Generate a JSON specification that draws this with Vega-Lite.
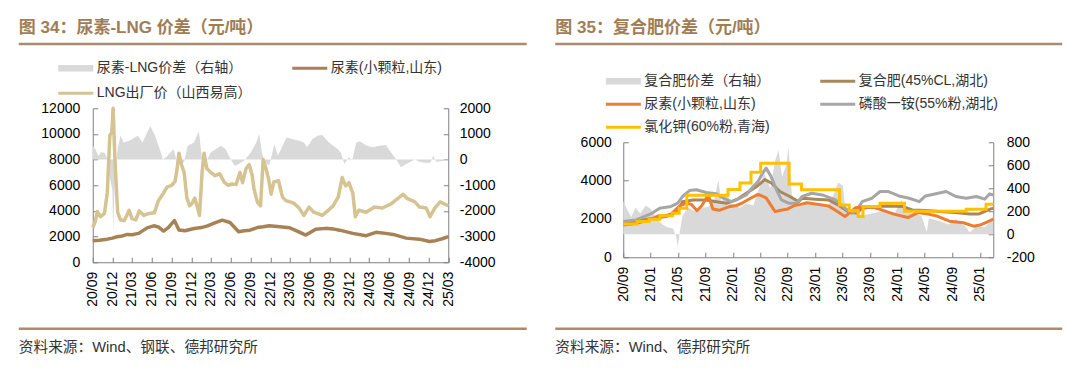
{
"$schema": "https://vega.github.io/schema/vega-lite/v6.json",
"padding": {"left": 16.75, "top": 18, "right": 5, "bottom": 5},
"background": "white",
"config": {
  "font": "Liberation Sans, Noto Sans CJK SC",
  "view": {"stroke": null},
  "axis": {"domainColor": "#808080", "tickColor": "#808080", "labelColor": "#000000", "labelFontSize": 14, "labelFont": "Liberation Sans, Noto Sans CJK SC", "grid": false, "tickSize": -5, "labelOverlap": false, "labelFlush": false},
  "legend": {"padding": 0, "labelFont": "Liberation Sans, Noto Sans CJK SC", "labelFontSize": 14, "labelColor": "#333333", "labelLimit": 400, "symbolStrokeWidth": 0},
  "title": {"font": "Liberation Sans, Noto Sans CJK SC"}
},
"datasets": {
"p1": [
{"d":"2020/09/01","s":"尿素-LNG价差（右轴）","v":550},{"d":"2020/09/13","s":"尿素-LNG价差（右轴）","v":400},{"d":"2020/09/28","s":"尿素-LNG价差（右轴）","v":150},{"d":"2020/10/10","s":"尿素-LNG价差（右轴）","v":300},{"d":"2020/10/28","s":"尿素-LNG价差（右轴）","v":250},{"d":"2020/11/07","s":"尿素-LNG价差（右轴）","v":0},{"d":"2020/11/19","s":"尿素-LNG价差（右轴）","v":-700},{"d":"2020/12/01","s":"尿素-LNG价差（右轴）","v":-1200},{"d":"2020/12/04","s":"尿素-LNG价差（右轴）","v":-2800},{"d":"2020/12/13","s":"尿素-LNG价差（右轴）","v":-600},{"d":"2020/12/25","s":"尿素-LNG价差（右轴）","v":400},{"d":"2021/01/07","s":"尿素-LNG价差（右轴）","v":930},{"d":"2021/01/22","s":"尿素-LNG价差（右轴）","v":670},{"d":"2021/02/19","s":"尿素-LNG价差（右轴）","v":740},{"d":"2021/03/28","s":"尿素-LNG价差（右轴）","v":930},{"d":"2021/04/19","s":"尿素-LNG价差（右轴）","v":670},{"d":"2021/05/10","s":"尿素-LNG价差（右轴）","v":1060},{"d":"2021/05/25","s":"尿素-LNG价差（右轴）","v":1300},{"d":"2021/06/16","s":"尿素-LNG价差（右轴）","v":930},{"d":"2021/07/07","s":"尿素-LNG价差（右轴）","v":410},{"d":"2021/07/22","s":"尿素-LNG价差（右轴）","v":0},{"d":"2021/08/07","s":"尿素-LNG价差（右轴）","v":100},{"d":"2021/08/19","s":"尿素-LNG价差（右轴）","v":220},{"d":"2021/09/10","s":"尿素-LNG价差（右轴）","v":410},{"d":"2021/09/22","s":"尿素-LNG价差（右轴）","v":0},{"d":"2021/10/04","s":"尿素-LNG价差（右轴）","v":-150},{"d":"2021/10/28","s":"尿素-LNG价差（右轴）","v":-100},{"d":"2021/11/13","s":"尿素-LNG价差（右轴）","v":540},{"d":"2021/12/13","s":"尿素-LNG价差（右轴）","v":670},{"d":"2022/01/04","s":"尿素-LNG价差（右轴）","v":1100},{"d":"2022/01/19","s":"尿素-LNG价差（右轴）","v":0},{"d":"2022/02/07","s":"尿素-LNG价差（右轴）","v":-80},{"d":"2022/02/28","s":"尿素-LNG价差（右轴）","v":280},{"d":"2022/03/25","s":"尿素-LNG价差（右轴）","v":410},{"d":"2022/04/16","s":"尿素-LNG价差（右轴）","v":540},{"d":"2022/05/07","s":"尿素-LNG价差（右轴）","v":410},{"d":"2022/06/01","s":"尿素-LNG价差（右轴）","v":0},{"d":"2022/06/19","s":"尿素-LNG价差（右轴）","v":-250},{"d":"2022/07/10","s":"尿素-LNG价差（右轴）","v":-150},{"d":"2022/08/01","s":"尿素-LNG价差（右轴）","v":-50},{"d":"2022/09/01","s":"尿素-LNG价差（右轴）","v":280},{"d":"2022/09/25","s":"尿素-LNG价差（右轴）","v":650},{"d":"2022/10/10","s":"尿素-LNG价差（右轴）","v":990},{"d":"2022/10/22","s":"尿素-LNG价差（右轴）","v":300},{"d":"2022/11/04","s":"尿素-LNG价差（右轴）","v":-100},{"d":"2022/11/25","s":"尿素-LNG价差（右轴）","v":-230},{"d":"2022/12/19","s":"尿素-LNG价差（右轴）","v":600},{"d":"2023/01/04","s":"尿素-LNG价差（右轴）","v":160},{"d":"2023/01/19","s":"尿素-LNG价差（右轴）","v":410},{"d":"2023/02/13","s":"尿素-LNG价差（右轴）","v":860},{"d":"2023/03/10","s":"尿素-LNG价差（右轴）","v":800},{"d":"2023/04/13","s":"尿素-LNG价差（右轴）","v":735},{"d":"2023/05/04","s":"尿素-LNG价差（右轴）","v":670},{"d":"2023/05/19","s":"尿素-LNG价差（右轴）","v":480},{"d":"2023/06/13","s":"尿素-LNG价差（右轴）","v":800},{"d":"2023/07/07","s":"尿素-LNG价差（右轴）","v":930},{"d":"2023/07/28","s":"尿素-LNG价差（右轴）","v":955},{"d":"2023/08/28","s":"尿素-LNG价差（右轴）","v":670},{"d":"2023/10/07","s":"尿素-LNG价差（右轴）","v":410},{"d":"2023/10/22","s":"尿素-LNG价差（右轴）","v":280},{"d":"2023/11/07","s":"尿素-LNG价差（右轴）","v":-170},{"d":"2023/11/28","s":"尿素-LNG价差（右轴）","v":90},{"d":"2023/12/13","s":"尿素-LNG价差（右轴）","v":-40},{"d":"2024/01/01","s":"尿素-LNG价差（右轴）","v":670},{"d":"2024/01/19","s":"尿素-LNG价差（右轴）","v":700},{"d":"2024/02/19","s":"尿素-LNG价差（右轴）","v":540},{"d":"2024/03/16","s":"尿素-LNG价差（右轴）","v":480},{"d":"2024/04/16","s":"尿素-LNG价差（右轴）","v":540},{"d":"2024/05/16","s":"尿素-LNG价差（右轴）","v":570},{"d":"2024/06/10","s":"尿素-LNG价差（右轴）","v":280},{"d":"2024/07/04","s":"尿素-LNG价差（右轴）","v":0},{"d":"2024/07/25","s":"尿素-LNG价差（右轴）","v":-300},{"d":"2024/08/19","s":"尿素-LNG价差（右轴）","v":-170},{"d":"2024/09/28","s":"尿素-LNG价差（右轴）","v":0},{"d":"2024/10/19","s":"尿素-LNG价差（右轴）","v":-80},{"d":"2024/11/19","s":"尿素-LNG价差（右轴）","v":-130},{"d":"2024/12/10","s":"尿素-LNG价差（右轴）","v":-100},{"d":"2024/12/22","s":"尿素-LNG价差（右轴）","v":160},{"d":"2025/01/04","s":"尿素-LNG价差（右轴）","v":-80},{"d":"2025/02/01","s":"尿素-LNG价差（右轴）","v":-60},{"d":"2025/03/01","s":"尿素-LNG价差（右轴）","v":-40},
{"d":"2020/09/01","s":"尿素(小颗粒,山东)","v":1680},{"d":"2020/10/01","s":"尿素(小颗粒,山东)","v":1720},{"d":"2020/11/07","s":"尿素(小颗粒,山东)","v":1800},{"d":"2020/12/01","s":"尿素(小颗粒,山东)","v":1880},{"d":"2020/12/22","s":"尿素(小颗粒,山东)","v":1990},{"d":"2021/01/16","s":"尿素(小颗粒,山东)","v":2050},{"d":"2021/02/07","s":"尿素(小颗粒,山东)","v":2170},{"d":"2021/03/01","s":"尿素(小颗粒,山东)","v":2150},{"d":"2021/04/01","s":"尿素(小颗粒,山东)","v":2250},{"d":"2021/05/10","s":"尿素(小颗粒,山东)","v":2680},{"d":"2021/06/10","s":"尿素(小颗粒,山东)","v":2840},{"d":"2021/07/01","s":"尿素(小颗粒,山东)","v":2750},{"d":"2021/07/25","s":"尿素(小颗粒,山东)","v":2430},{"d":"2021/08/16","s":"尿素(小颗粒,山东)","v":2700},{"d":"2021/09/13","s":"尿素(小颗粒,山东)","v":3250},{"d":"2021/10/04","s":"尿素(小颗粒,山东)","v":2520},{"d":"2021/11/01","s":"尿素(小颗粒,山东)","v":2450},{"d":"2021/12/13","s":"尿素(小颗粒,山东)","v":2630},{"d":"2022/01/16","s":"尿素(小颗粒,山东)","v":2700},{"d":"2022/02/13","s":"尿素(小颗粒,山东)","v":2840},{"d":"2022/03/16","s":"尿素(小颗粒,山东)","v":3050},{"d":"2022/04/22","s":"尿素(小颗粒,山东)","v":3280},{"d":"2022/05/28","s":"尿素(小颗粒,山东)","v":3100},{"d":"2022/07/07","s":"尿素(小颗粒,山东)","v":2380},{"d":"2022/08/01","s":"尿素(小颗粒,山东)","v":2450},{"d":"2022/08/28","s":"尿素(小颗粒,山东)","v":2500},{"d":"2022/10/01","s":"尿素(小颗粒,山东)","v":2700},{"d":"2022/10/28","s":"尿素(小颗粒,山东)","v":2760},{"d":"2022/11/25","s":"尿素(小颗粒,山东)","v":2840},{"d":"2023/01/01","s":"尿素(小颗粒,山东)","v":2780},{"d":"2023/02/28","s":"尿素(小颗粒,山东)","v":2680},{"d":"2023/04/01","s":"尿素(小颗粒,山东)","v":2450},{"d":"2023/05/13","s":"尿素(小颗粒,山东)","v":2120},{"d":"2023/06/28","s":"尿素(小颗粒,山东)","v":2580},{"d":"2023/08/13","s":"尿素(小颗粒,山东)","v":2640},{"d":"2023/09/16","s":"尿素(小颗粒,山东)","v":2600},{"d":"2023/10/16","s":"尿素(小颗粒,山东)","v":2500},{"d":"2023/12/16","s":"尿素(小颗粒,山东)","v":2250},{"d":"2024/02/16","s":"尿素(小颗粒,山东)","v":2070},{"d":"2024/04/01","s":"尿素(小颗粒,山东)","v":2330},{"d":"2024/05/16","s":"尿素(小颗粒,山东)","v":2250},{"d":"2024/06/19","s":"尿素(小颗粒,山东)","v":2170},{"d":"2024/08/19","s":"尿素(小颗粒,山东)","v":1880},{"d":"2024/10/19","s":"尿素(小颗粒,山东)","v":1800},{"d":"2024/12/04","s":"尿素(小颗粒,山东)","v":1620},{"d":"2025/01/01","s":"尿素(小颗粒,山东)","v":1680},{"d":"2025/02/01","s":"尿素(小颗粒,山东)","v":1830},{"d":"2025/03/01","s":"尿素(小颗粒,山东)","v":1990},
{"d":"2020/09/01","s":"LNG出厂价（山西易高）","v":2700},{"d":"2020/09/13","s":"LNG出厂价（山西易高）","v":3200},{"d":"2020/09/22","s":"LNG出厂价（山西易高）","v":3950},{"d":"2020/10/07","s":"LNG出厂价（山西易高）","v":3550},{"d":"2020/10/25","s":"LNG出厂价（山西易高）","v":3800},{"d":"2020/11/07","s":"LNG出厂价（山西易高）","v":5400},{"d":"2020/11/19","s":"LNG出厂价（山西易高）","v":9900},{"d":"2020/11/28","s":"LNG出厂价（山西易高）","v":10100},{"d":"2020/12/04","s":"LNG出厂价（山西易高）","v":12000},{"d":"2020/12/13","s":"LNG出厂价（山西易高）","v":7800},{"d":"2020/12/25","s":"LNG出厂价（山西易高）","v":3900},{"d":"2021/01/07","s":"LNG出厂价（山西易高）","v":3300},{"d":"2021/01/25","s":"LNG出厂价（山西易高）","v":3250},{"d":"2021/02/16","s":"LNG出厂价（山西易高）","v":4050},{"d":"2021/03/01","s":"LNG出厂价（山西易高）","v":3400},{"d":"2021/03/19","s":"LNG出厂价（山西易高）","v":3300},{"d":"2021/04/04","s":"LNG出厂价（山西易高）","v":4000},{"d":"2021/04/25","s":"LNG出厂价（山西易高）","v":3650},{"d":"2021/05/19","s":"LNG出厂价（山西易高）","v":3800},{"d":"2021/06/13","s":"LNG出厂价（山西易高）","v":3850},{"d":"2021/07/01","s":"LNG出厂价（山西易高）","v":4800},{"d":"2021/07/25","s":"LNG出厂价（山西易高）","v":5400},{"d":"2021/08/10","s":"LNG出厂价（山西易高）","v":5850},{"d":"2021/09/01","s":"LNG出厂价（山西易高）","v":6000},{"d":"2021/09/16","s":"LNG出厂价（山西易高）","v":6300},{"d":"2021/09/25","s":"LNG出厂价（山西易高）","v":7200},{"d":"2021/10/04","s":"LNG出厂价（山西易高）","v":8500},{"d":"2021/10/16","s":"LNG出厂价（山西易高）","v":7600},{"d":"2021/10/28","s":"LNG出厂价（山西易高）","v":7000},{"d":"2021/11/10","s":"LNG出厂价（山西易高）","v":5000},{"d":"2021/11/22","s":"LNG出厂价（山西易高）","v":4400},{"d":"2021/12/04","s":"LNG出厂价（山西易高）","v":4600},{"d":"2021/12/16","s":"LNG出厂价（山西易高）","v":5000},{"d":"2021/12/28","s":"LNG出厂价（山西易高）","v":4300},{"d":"2022/01/07","s":"LNG出厂价（山西易高）","v":3650},{"d":"2022/01/19","s":"LNG出厂价（山西易高）","v":7000},{"d":"2022/01/28","s":"LNG出厂价（山西易高）","v":8500},{"d":"2022/02/10","s":"LNG出厂价（山西易高）","v":7300},{"d":"2022/02/28","s":"LNG出厂价（山西易高）","v":7000},{"d":"2022/03/19","s":"LNG出厂价（山西易高）","v":6750},{"d":"2022/04/10","s":"LNG出厂价（山西易高）","v":6900},{"d":"2022/05/01","s":"LNG出厂价（山西易高）","v":6250},{"d":"2022/05/19","s":"LNG出厂价（山西易高）","v":6000},{"d":"2022/06/07","s":"LNG出厂价（山西易高）","v":6100},{"d":"2022/06/25","s":"LNG出厂价（山西易高）","v":6050},{"d":"2022/07/13","s":"LNG出厂价（山西易高）","v":7000},{"d":"2022/07/25","s":"LNG出厂价（山西易高）","v":6200},{"d":"2022/08/10","s":"LNG出厂价（山西易高）","v":7300},{"d":"2022/08/25","s":"LNG出厂价（山西易高）","v":7600},{"d":"2022/09/07","s":"LNG出厂价（山西易高）","v":6800},{"d":"2022/09/16","s":"LNG出厂价（山西易高）","v":5700},{"d":"2022/10/01","s":"LNG出厂价（山西易高）","v":4700},{"d":"2022/10/16","s":"LNG出厂价（山西易高）","v":4400},{"d":"2022/10/28","s":"LNG出厂价（山西易高）","v":8000},{"d":"2022/11/10","s":"LNG出厂价（山西易高）","v":7300},{"d":"2022/11/22","s":"LNG出厂价（山西易高）","v":6500},{"d":"2022/12/04","s":"LNG出厂价（山西易高）","v":5300},{"d":"2022/12/16","s":"LNG出厂价（山西易高）","v":6250},{"d":"2023/01/07","s":"LNG出厂价（山西易高）","v":6350},{"d":"2023/01/25","s":"LNG出厂价（山西易高）","v":5100},{"d":"2023/02/10","s":"LNG出厂价（山西易高）","v":4800},{"d":"2023/03/01","s":"LNG出厂价（山西易高）","v":4700},{"d":"2023/03/19","s":"LNG出厂价（山西易高）","v":4600},{"d":"2023/04/13","s":"LNG出厂价（山西易高）","v":4200},{"d":"2023/05/04","s":"LNG出厂价（山西易高）","v":3650},{"d":"2023/05/28","s":"LNG出厂价（山西易高）","v":4300},{"d":"2023/06/19","s":"LNG出厂价（山西易高）","v":3900},{"d":"2023/07/28","s":"LNG出厂价（山西易高）","v":3650},{"d":"2023/08/22","s":"LNG出厂价（山西易高）","v":4000},{"d":"2023/09/16","s":"LNG出厂价（山西易高）","v":4400},{"d":"2023/10/10","s":"LNG出厂价（山西易高）","v":5100},{"d":"2023/10/28","s":"LNG出厂价（山西易高）","v":6600},{"d":"2023/11/13","s":"LNG出厂价（山西易高）","v":5950},{"d":"2023/11/28","s":"LNG出厂价（山西易高）","v":6200},{"d":"2023/12/16","s":"LNG出厂价（山西易高）","v":5400},{"d":"2023/12/28","s":"LNG出厂价（山西易高）","v":3550},{"d":"2024/01/13","s":"LNG出厂价（山西易高）","v":4050},{"d":"2024/02/16","s":"LNG出厂价（山西易高）","v":3900},{"d":"2024/03/25","s":"LNG出厂价（山西易高）","v":4300},{"d":"2024/05/01","s":"LNG出厂价（山西易高）","v":4230},{"d":"2024/06/10","s":"LNG出厂价（山西易高）","v":4550},{"d":"2024/07/10","s":"LNG出厂价（山西易高）","v":4950},{"d":"2024/08/04","s":"LNG出厂价（山西易高）","v":5300},{"d":"2024/08/25","s":"LNG出厂价（山西易高）","v":4950},{"d":"2024/09/28","s":"LNG出厂价（山西易高）","v":4700},{"d":"2024/10/19","s":"LNG出厂价（山西易高）","v":4300},{"d":"2024/11/19","s":"LNG出厂价（山西易高）","v":4230},{"d":"2024/12/07","s":"LNG出厂价（山西易高）","v":3550},{"d":"2024/12/28","s":"LNG出厂价（山西易高）","v":4200},{"d":"2025/01/22","s":"LNG出厂价（山西易高）","v":4700},{"d":"2025/03/01","s":"LNG出厂价（山西易高）","v":4400}
],
"p2": [
{"d":"2020/09/01","s":"复合肥价差（右轴）","v":290},{"d":"2020/09/22","s":"复合肥价差（右轴）","v":200},{"d":"2020/10/07","s":"复合肥价差（右轴）","v":150},{"d":"2020/10/25","s":"复合肥价差（右轴）","v":230},{"d":"2020/11/16","s":"复合肥价差（右轴）","v":180},{"d":"2020/12/10","s":"复合肥价差（右轴）","v":250},{"d":"2021/01/01","s":"复合肥价差（右轴）","v":220},{"d":"2021/01/25","s":"复合肥价差（右轴）","v":150},{"d":"2021/02/19","s":"复合肥价差（右轴）","v":90},{"d":"2021/03/16","s":"复合肥价差（右轴）","v":60},{"d":"2021/04/10","s":"复合肥价差（右轴）","v":50},{"d":"2021/04/25","s":"复合肥价差（右轴）","v":-30},{"d":"2021/05/01","s":"复合肥价差（右轴）","v":-110},{"d":"2021/05/10","s":"复合肥价差（右轴）","v":20},{"d":"2021/05/22","s":"复合肥价差（右轴）","v":160},{"d":"2021/06/16","s":"复合肥价差（右轴）","v":230},{"d":"2021/07/16","s":"复合肥价差（右轴）","v":200},{"d":"2021/08/16","s":"复合肥价差（右轴）","v":230},{"d":"2021/09/16","s":"复合肥价差（右轴）","v":240},{"d":"2021/10/10","s":"复合肥价差（右轴）","v":300},{"d":"2021/10/28","s":"复合肥价差（右轴）","v":470},{"d":"2021/11/10","s":"复合肥价差（右轴）","v":280},{"d":"2021/12/01","s":"复合肥价差（右轴）","v":360},{"d":"2021/12/25","s":"复合肥价差（右轴）","v":270},{"d":"2022/02/01","s":"复合肥价差（右轴）","v":230},{"d":"2022/03/01","s":"复合肥价差（右轴）","v":270},{"d":"2022/04/01","s":"复合肥价差（右轴）","v":250},{"d":"2022/05/01","s":"复合肥价差（右轴）","v":420},{"d":"2022/05/19","s":"复合肥价差（右轴）","v":530},{"d":"2022/06/16","s":"复合肥价差（右轴）","v":400},{"d":"2022/07/07","s":"复合肥价差（右轴）","v":640},{"d":"2022/07/22","s":"复合肥价差（右轴）","v":730},{"d":"2022/08/07","s":"复合肥价差（右轴）","v":500},{"d":"2022/08/25","s":"复合肥价差（右轴）","v":600},{"d":"2022/09/04","s":"复合肥价差（右轴）","v":750},{"d":"2022/09/19","s":"复合肥价差（右轴）","v":350},{"d":"2022/10/10","s":"复合肥价差（右轴）","v":240},{"d":"2022/11/04","s":"复合肥价差（右轴）","v":270},{"d":"2023/01/01","s":"复合肥价差（右轴）","v":250},{"d":"2023/03/01","s":"复合肥价差（右轴）","v":250},{"d":"2023/03/28","s":"复合肥价差（右轴）","v":360},{"d":"2023/04/13","s":"复合肥价差（右轴）","v":450},{"d":"2023/05/04","s":"复合肥价差（右轴）","v":420},{"d":"2023/05/13","s":"复合肥价差（右轴）","v":250},{"d":"2023/06/13","s":"复合肥价差（右轴）","v":190},{"d":"2023/07/10","s":"复合肥价差（右轴）","v":160},{"d":"2023/08/25","s":"复合肥价差（右轴）","v":175},{"d":"2023/10/22","s":"复合肥价差（右轴）","v":200},{"d":"2023/12/22","s":"复合肥价差（右轴）","v":190},{"d":"2024/01/19","s":"复合肥价差（右轴）","v":300},{"d":"2024/02/16","s":"复合肥价差（右轴）","v":190},{"d":"2024/04/16","s":"复合肥价差（右轴）","v":160},{"d":"2024/05/10","s":"复合肥价差（右轴）","v":20},{"d":"2024/05/19","s":"复合肥价差（右轴）","v":140},{"d":"2024/07/04","s":"复合肥价差（右轴）","v":115},{"d":"2024/08/16","s":"复合肥价差（右轴）","v":85},{"d":"2024/09/16","s":"复合肥价差（右轴）","v":130},{"d":"2024/11/01","s":"复合肥价差（右轴）","v":60},{"d":"2024/11/16","s":"复合肥价差（右轴）","v":15},{"d":"2024/12/16","s":"复合肥价差（右轴）","v":70},{"d":"2025/01/22","s":"复合肥价差（右轴）","v":60},{"d":"2025/02/13","s":"复合肥价差（右轴）","v":100},{"d":"2025/03/01","s":"复合肥价差（右轴）","v":160},
{"d":"2020/09/01","s":"复合肥(45%CL,湖北)","v":1740},{"d":"2020/11/25","s":"复合肥(45%CL,湖北)","v":1950},{"d":"2021/03/10","s":"复合肥(45%CL,湖北)","v":2120},{"d":"2021/05/01","s":"复合肥(45%CL,湖北)","v":2380},{"d":"2021/05/22","s":"复合肥(45%CL,湖北)","v":2900},{"d":"2021/07/07","s":"复合肥(45%CL,湖北)","v":2990},{"d":"2021/09/04","s":"复合肥(45%CL,湖北)","v":2990},{"d":"2021/10/19","s":"复合肥(45%CL,湖北)","v":2900},{"d":"2021/12/04","s":"复合肥(45%CL,湖北)","v":2820},{"d":"2022/01/16","s":"复合肥(45%CL,湖北)","v":2990},{"d":"2022/03/01","s":"复合肥(45%CL,湖北)","v":3340},{"d":"2022/04/16","s":"复合肥(45%CL,湖北)","v":3690},{"d":"2022/05/22","s":"复合肥(45%CL,湖北)","v":4050},{"d":"2022/06/22","s":"复合肥(45%CL,湖北)","v":3860},{"d":"2022/07/28","s":"复合肥(45%CL,湖北)","v":3430},{"d":"2022/09/10","s":"复合肥(45%CL,湖北)","v":3170},{"d":"2022/10/19","s":"复合肥(45%CL,湖北)","v":2900},{"d":"2022/11/04","s":"复合肥(45%CL,湖北)","v":3080},{"d":"2023/01/01","s":"复合肥(45%CL,湖北)","v":3030},{"d":"2023/03/01","s":"复合肥(45%CL,湖北)","v":2990},{"d":"2023/04/13","s":"复合肥(45%CL,湖北)","v":2730},{"d":"2023/05/28","s":"复合肥(45%CL,湖北)","v":2380},{"d":"2023/07/04","s":"复合肥(45%CL,湖北)","v":2300},{"d":"2023/07/28","s":"复合肥(45%CL,湖北)","v":2560},{"d":"2023/09/25","s":"复合肥(45%CL,湖北)","v":2650},{"d":"2023/11/25","s":"复合肥(45%CL,湖北)","v":2680},{"d":"2024/01/22","s":"复合肥(45%CL,湖北)","v":2650},{"d":"2024/03/07","s":"复合肥(45%CL,湖北)","v":2470},{"d":"2024/05/07","s":"复合肥(45%CL,湖北)","v":2440},{"d":"2024/07/19","s":"复合肥(45%CL,湖北)","v":2380},{"d":"2024/09/16","s":"复合肥(45%CL,湖北)","v":2330},{"d":"2024/11/16","s":"复合肥(45%CL,湖北)","v":2260},{"d":"2024/12/28","s":"复合肥(45%CL,湖北)","v":2260},{"d":"2025/02/13","s":"复合肥(45%CL,湖北)","v":2500},{"d":"2025/03/01","s":"复合肥(45%CL,湖北)","v":2560},
{"d":"2020/09/01","s":"磷酸一铵(55%粉,湖北)","v":1860},{"d":"2020/10/28","s":"磷酸一铵(55%粉,湖北)","v":1950},{"d":"2021/01/01","s":"磷酸一铵(55%粉,湖北)","v":2260},{"d":"2021/02/10","s":"磷酸一铵(55%粉,湖北)","v":2560},{"d":"2021/04/01","s":"磷酸一铵(55%粉,湖北)","v":2650},{"d":"2021/05/01","s":"磷酸一铵(55%粉,湖北)","v":2820},{"d":"2021/05/22","s":"磷酸一铵(55%粉,湖北)","v":3170},{"d":"2021/06/22","s":"磷酸一铵(55%粉,湖北)","v":3480},{"d":"2021/07/22","s":"磷酸一铵(55%粉,湖北)","v":3520},{"d":"2021/09/04","s":"磷酸一铵(55%粉,湖北)","v":3380},{"d":"2021/10/19","s":"磷酸一铵(55%粉,湖北)","v":3310},{"d":"2021/11/19","s":"磷酸一铵(55%粉,湖北)","v":3080},{"d":"2021/12/25","s":"磷酸一铵(55%粉,湖北)","v":2900},{"d":"2022/02/01","s":"磷酸一铵(55%粉,湖北)","v":3080},{"d":"2022/03/01","s":"磷酸一铵(55%粉,湖北)","v":3250},{"d":"2022/04/01","s":"磷酸一铵(55%粉,湖北)","v":3690},{"d":"2022/04/22","s":"磷酸一铵(55%粉,湖北)","v":3950},{"d":"2022/05/13","s":"磷酸一铵(55%粉,湖北)","v":4390},{"d":"2022/05/28","s":"磷酸一铵(55%粉,湖北)","v":4650},{"d":"2022/06/19","s":"磷酸一铵(55%粉,湖北)","v":4210},{"d":"2022/07/13","s":"磷酸一铵(55%粉,湖北)","v":3520},{"d":"2022/08/04","s":"磷酸一铵(55%粉,湖北)","v":2990},{"d":"2022/09/04","s":"磷酸一铵(55%粉,湖北)","v":2820},{"d":"2022/10/10","s":"磷酸一铵(55%粉,湖北)","v":2820},{"d":"2022/11/04","s":"磷酸一铵(55%粉,湖北)","v":3170},{"d":"2022/12/16","s":"磷酸一铵(55%粉,湖北)","v":3340},{"d":"2023/02/01","s":"磷酸一铵(55%粉,湖北)","v":3250},{"d":"2023/04/01","s":"磷酸一铵(55%粉,湖北)","v":2990},{"d":"2023/05/13","s":"磷酸一铵(55%粉,湖北)","v":2560},{"d":"2023/06/13","s":"磷酸一铵(55%粉,湖北)","v":2300},{"d":"2023/07/04","s":"磷酸一铵(55%粉,湖北)","v":2440},{"d":"2023/07/28","s":"磷酸一铵(55%粉,湖北)","v":2900},{"d":"2023/09/10","s":"磷酸一铵(55%粉,湖北)","v":3080},{"d":"2023/10/16","s":"磷酸一铵(55%粉,湖北)","v":3430},{"d":"2023/11/22","s":"磷酸一铵(55%粉,湖北)","v":3430},{"d":"2024/01/07","s":"磷酸一铵(55%粉,湖北)","v":3200},{"d":"2024/02/22","s":"磷酸一铵(55%粉,湖北)","v":3080},{"d":"2024/04/07","s":"磷酸一铵(55%粉,湖北)","v":2900},{"d":"2024/05/04","s":"磷酸一铵(55%粉,湖北)","v":3200},{"d":"2024/06/19","s":"磷酸一铵(55%粉,湖北)","v":3310},{"d":"2024/08/04","s":"磷酸一铵(55%粉,湖北)","v":3430},{"d":"2024/09/16","s":"磷酸一铵(55%粉,湖北)","v":3170},{"d":"2024/11/01","s":"磷酸一铵(55%粉,湖北)","v":3080},{"d":"2024/12/16","s":"磷酸一铵(55%粉,湖北)","v":3170},{"d":"2025/01/22","s":"磷酸一铵(55%粉,湖北)","v":3030},{"d":"2025/02/13","s":"磷酸一铵(55%粉,湖北)","v":3310},{"d":"2025/03/01","s":"磷酸一铵(55%粉,湖北)","v":3250},
{"d":"2020/09/01","s":"尿素(小颗粒,山东)","v":1680},{"d":"2020/10/01","s":"尿素(小颗粒,山东)","v":1720},{"d":"2020/11/07","s":"尿素(小颗粒,山东)","v":1800},{"d":"2020/12/01","s":"尿素(小颗粒,山东)","v":1880},{"d":"2020/12/22","s":"尿素(小颗粒,山东)","v":1990},{"d":"2021/01/16","s":"尿素(小颗粒,山东)","v":2050},{"d":"2021/02/07","s":"尿素(小颗粒,山东)","v":2170},{"d":"2021/03/01","s":"尿素(小颗粒,山东)","v":2150},{"d":"2021/04/01","s":"尿素(小颗粒,山东)","v":2250},{"d":"2021/05/10","s":"尿素(小颗粒,山东)","v":2680},{"d":"2021/06/10","s":"尿素(小颗粒,山东)","v":2840},{"d":"2021/07/01","s":"尿素(小颗粒,山东)","v":2750},{"d":"2021/07/25","s":"尿素(小颗粒,山东)","v":2430},{"d":"2021/08/16","s":"尿素(小颗粒,山东)","v":2700},{"d":"2021/09/13","s":"尿素(小颗粒,山东)","v":3250},{"d":"2021/10/04","s":"尿素(小颗粒,山东)","v":2520},{"d":"2021/11/01","s":"尿素(小颗粒,山东)","v":2450},{"d":"2021/12/13","s":"尿素(小颗粒,山东)","v":2630},{"d":"2022/01/16","s":"尿素(小颗粒,山东)","v":2700},{"d":"2022/02/13","s":"尿素(小颗粒,山东)","v":2840},{"d":"2022/03/16","s":"尿素(小颗粒,山东)","v":3050},{"d":"2022/04/22","s":"尿素(小颗粒,山东)","v":3280},{"d":"2022/05/28","s":"尿素(小颗粒,山东)","v":3100},{"d":"2022/07/07","s":"尿素(小颗粒,山东)","v":2380},{"d":"2022/08/01","s":"尿素(小颗粒,山东)","v":2450},{"d":"2022/08/28","s":"尿素(小颗粒,山东)","v":2500},{"d":"2022/10/01","s":"尿素(小颗粒,山东)","v":2700},{"d":"2022/10/28","s":"尿素(小颗粒,山东)","v":2760},{"d":"2022/11/25","s":"尿素(小颗粒,山东)","v":2840},{"d":"2023/01/01","s":"尿素(小颗粒,山东)","v":2780},{"d":"2023/02/28","s":"尿素(小颗粒,山东)","v":2680},{"d":"2023/04/01","s":"尿素(小颗粒,山东)","v":2450},{"d":"2023/05/13","s":"尿素(小颗粒,山东)","v":2120},{"d":"2023/06/28","s":"尿素(小颗粒,山东)","v":2580},{"d":"2023/08/13","s":"尿素(小颗粒,山东)","v":2640},{"d":"2023/09/16","s":"尿素(小颗粒,山东)","v":2600},{"d":"2023/10/16","s":"尿素(小颗粒,山东)","v":2500},{"d":"2023/12/16","s":"尿素(小颗粒,山东)","v":2250},{"d":"2024/02/16","s":"尿素(小颗粒,山东)","v":2070},{"d":"2024/04/01","s":"尿素(小颗粒,山东)","v":2330},{"d":"2024/05/16","s":"尿素(小颗粒,山东)","v":2250},{"d":"2024/06/19","s":"尿素(小颗粒,山东)","v":2170},{"d":"2024/08/19","s":"尿素(小颗粒,山东)","v":1880},{"d":"2024/10/19","s":"尿素(小颗粒,山东)","v":1800},{"d":"2024/12/04","s":"尿素(小颗粒,山东)","v":1620},{"d":"2025/01/01","s":"尿素(小颗粒,山东)","v":1680},{"d":"2025/02/01","s":"尿素(小颗粒,山东)","v":1830},{"d":"2025/03/01","s":"尿素(小颗粒,山东)","v":1990},
{"d":"2020/09/01","s":"氯化钾(60%粉,青海)","v":1740},{"d":"2020/11/01","s":"氯化钾(60%粉,青海)","v":1860},{"d":"2020/12/25","s":"氯化钾(60%粉,青海)","v":1980},{"d":"2021/02/10","s":"氯化钾(60%粉,青海)","v":2160},{"d":"2021/04/07","s":"氯化钾(60%粉,青海)","v":2300},{"d":"2021/05/07","s":"氯化钾(60%粉,青海)","v":2560},{"d":"2021/06/10","s":"氯化钾(60%粉,青海)","v":3230},{"d":"2021/12/10","s":"氯化钾(60%粉,青海)","v":3540},{"d":"2022/02/01","s":"氯化钾(60%粉,青海)","v":3880},{"d":"2022/03/22","s":"氯化钾(60%粉,青海)","v":4430},{"d":"2022/05/04","s":"氯化钾(60%粉,青海)","v":4900},{"d":"2022/09/07","s":"氯化钾(60%粉,青海)","v":3820},{"d":"2022/11/01","s":"氯化钾(60%粉,青海)","v":3520},{"d":"2023/04/19","s":"氯化钾(60%粉,青海)","v":2730},{"d":"2023/06/01","s":"氯化钾(60%粉,青海)","v":2420},{"d":"2023/07/10","s":"氯化钾(60%粉,青海)","v":2120},{"d":"2023/08/01","s":"氯化钾(60%粉,青海)","v":2650},{"d":"2023/10/16","s":"氯化钾(60%粉,青海)","v":2820},{"d":"2024/02/01","s":"氯化钾(60%粉,青海)","v":2400},{"d":"2024/11/01","s":"氯化钾(60%粉,青海)","v":2500},{"d":"2025/01/28","s":"氯化钾(60%粉,青海)","v":2760},{"d":"2025/03/01","s":"氯化钾(60%粉,青海)","v":2760}
]
},
"concat": [
 {
  "concat": [
   {
    "width": 508, "height": 1,
    "data": {"values": [{}]},
    "mark": {"type": "rule", "color": "#aa8c6e", "strokeWidth": 2.5},
    "encoding": {"y": {"datum": 0, "scale": {"domain": [0, 1]}, "axis": null}},
    "title": {"text": "图 34：尿素-LNG 价差（元/吨）", "anchor": "start", "frame": "group", "fontSize": 17, "fontWeight": "bold", "color": "#a07d55", "baseline": "bottom", "offset": -11}
   },
   {
    "concat": [
     {
      "concat": [
       {
        "width": 1, "height": 1,
        "data": {"values": [{}]},
        "mark": {"type": "point", "opacity": 0, "size": 1}
       },
       {
        "width": 355.5, "height": 154,
        "data": {"name": "p1"},
        "layer": [
         {
          "transform": [{"filter": "datum.s === '尿素-LNG价差（右轴）'"}],
          "mark": {"type": "area"},
          "encoding": {
           "x": {"field": "d", "type": "temporal", "scale": {"domain": [{"year": 2020, "month": 9, "date": 1}, {"year": 2025, "month": 3, "date": 1}], "nice": false},
                 "axis": {"values": [{"year":2020,"month":9,"date":1},{"year":2020,"month":12,"date":1},{"year":2021,"month":3,"date":1},{"year":2021,"month":6,"date":1},{"year":2021,"month":9,"date":1},{"year":2021,"month":12,"date":1},{"year":2022,"month":3,"date":1},{"year":2022,"month":6,"date":1},{"year":2022,"month":9,"date":1},{"year":2022,"month":12,"date":1},{"year":2023,"month":3,"date":1},{"year":2023,"month":6,"date":1},{"year":2023,"month":9,"date":1},{"year":2023,"month":12,"date":1},{"year":2024,"month":3,"date":1},{"year":2024,"month":6,"date":1},{"year":2024,"month":9,"date":1},{"year":2024,"month":12,"date":1},{"year":2025,"month":3,"date":1}], "format": "%y/%m", "labelAngle": 270, "labelPadding": 14, "labelOverlap": false, "title": null}},
           "y": {"field": "v", "type": "quantitative", "stack": null, "scale": {"domain": [-4000, 2000], "nice": false, "zero": false},
                 "axis": {"orient": "right", "values": [-4000, -3000, -2000, -1000, 0, 1000, 2000], "labelExpr": "'' + datum.value", "labelPadding": 16, "title": null}},
           "y2": {"datum": 0},
           "color": {"field": "s", "type": "nominal",
                     "scale": {"domain": ["尿素-LNG价差（右轴）", "尿素(小颗粒,山东)", "LNG出厂价（山西易高）"], "range": ["#d9d9d9", "#a68254", "#d6c392"]},
                     "legend": {"orient": "none", "legendX": -36.5, "legendY": -47, "title": null, "columns": 2, "direction": "horizontal", "columnPadding": 38, "rowPadding": 11, "symbolType": "M-3.5,-0.3H3.5V0.3H-3.5Z", "symbolSize": 100, "symbolOffset": 12.5, "labelOffset": 14,
                                "encoding": {"symbols": {"shape": {"value": {"expr": "datum.value === '尿素-LNG价差（右轴）' ? 'M-3.5,-0.65H3.5V0.65H-3.5Z' : 'M-3.5,-0.3H3.5V0.3H-3.5Z'"}}, "fill": {"value": {"expr": "datum.value === '尿素-LNG价差（右轴）' ? '#d9d9d9' : datum.value === '尿素(小颗粒,山东)' ? '#a68254' : '#d6c392'"}}, "strokeWidth": {"value": 0}}}}}
          }
         },
         {
          "transform": [{"filter": "datum.s !== '尿素-LNG价差（右轴）'"}],
          "mark": {"type": "line", "strokeWidth": 3.5, "strokeJoin": "round"},
          "encoding": {
           "x": {"field": "d", "type": "temporal", "scale": {"domain": [{"year": 2020, "month": 9, "date": 1}, {"year": 2025, "month": 3, "date": 1}], "nice": false},
                 "axis": {"values": [{"year":2020,"month":9,"date":1},{"year":2020,"month":12,"date":1},{"year":2021,"month":3,"date":1},{"year":2021,"month":6,"date":1},{"year":2021,"month":9,"date":1},{"year":2021,"month":12,"date":1},{"year":2022,"month":3,"date":1},{"year":2022,"month":6,"date":1},{"year":2022,"month":9,"date":1},{"year":2022,"month":12,"date":1},{"year":2023,"month":3,"date":1},{"year":2023,"month":6,"date":1},{"year":2023,"month":9,"date":1},{"year":2023,"month":12,"date":1},{"year":2024,"month":3,"date":1},{"year":2024,"month":6,"date":1},{"year":2024,"month":9,"date":1},{"year":2024,"month":12,"date":1},{"year":2025,"month":3,"date":1}], "format": "%y/%m", "labelAngle": 270, "labelPadding": 14, "labelOverlap": false, "title": null}},
           "y": {"field": "v", "type": "quantitative", "scale": {"domain": [0, 12000], "nice": false},
                 "axis": {"orient": "left", "values": [0, 2000, 4000, 6000, 8000, 10000, 12000], "labelExpr": "'' + datum.value", "labelPadding": 18, "title": " ", "titleColor": "transparent", "titleFontSize": 10, "titlePadding": 11}},
           "color": {"field": "s", "type": "nominal",
                     "scale": {"domain": ["尿素-LNG价差（右轴）", "尿素(小颗粒,山东)", "LNG出厂价（山西易高）"], "range": ["#d9d9d9", "#a68254", "#d6c392"]},
                     "legend": {"orient": "none", "legendX": -36.5, "legendY": -47, "title": null, "columns": 2, "direction": "horizontal", "columnPadding": 38, "rowPadding": 11, "symbolType": "M-3.5,-0.3H3.5V0.3H-3.5Z", "symbolSize": 100, "symbolOffset": 12.5, "labelOffset": 14,
                                "encoding": {"symbols": {"shape": {"value": {"expr": "datum.value === '尿素-LNG价差（右轴）' ? 'M-3.5,-0.65H3.5V0.65H-3.5Z' : 'M-3.5,-0.3H3.5V0.3H-3.5Z'"}}, "fill": {"value": {"expr": "datum.value === '尿素-LNG价差（右轴）' ? '#d9d9d9' : datum.value === '尿素(小颗粒,山东)' ? '#a68254' : '#d6c392'"}}, "strokeWidth": {"value": 0}}}}}
          }
         }
        ],
        "resolve": {"scale": {"y": "independent"}}
       }
      ],
      "columns": 2, "spacing": 0, "align": "each",
      "resolve": {"scale": {"color": "independent"}, "legend": {"color": "independent"}}
     },
     {
      "width": 508, "height": 1,
      "data": {"values": [{}]},
      "mark": {"type": "rule", "color": "#aa8c6e", "strokeWidth": 2.5},
      "encoding": {"y": {"datum": 1, "scale": {"domain": [0, 1]}, "axis": null}},
      "title": {"text": "资料来源：Wind、钢联、德邦研究所", "orient": "bottom", "anchor": "start", "frame": "group", "fontSize": 14.7, "fontWeight": "normal", "color": "#333333", "baseline": "top", "offset": 10}
     }
    ],
    "columns": 1, "spacing": 19.5,
    "resolve": {"scale": {"color": "independent"}, "legend": {"color": "independent"}}
   }
  ],
  "columns": 1, "spacing": 15.25,
  "resolve": {"scale": {"color": "independent"}, "legend": {"color": "independent"}}
 },
 {
  "concat": [
   {
    "width": 507, "height": 1,
    "data": {"values": [{}]},
    "mark": {"type": "rule", "color": "#aa8c6e", "strokeWidth": 2.5},
    "encoding": {"y": {"datum": 0, "scale": {"domain": [0, 1]}, "axis": null}},
    "title": {"text": "图 35：复合肥价差（元/吨）", "anchor": "start", "frame": "group", "fontSize": 17, "fontWeight": "bold", "color": "#a07d55", "baseline": "bottom", "offset": -11}
   },
   {
    "concat": [
     {
      "concat": [
       {
        "width": 1, "height": 1,
        "data": {"values": [{}]},
        "mark": {"type": "point", "opacity": 0, "size": 1}
       },
       {
        "width": 370, "height": 115,
        "data": {"name": "p2"},
        "layer": [
         {
          "transform": [{"filter": "datum.s === '复合肥价差（右轴）'"}],
          "mark": {"type": "area"},
          "encoding": {
           "x": {"field": "d", "type": "temporal", "scale": {"domain": [{"year": 2020, "month": 9, "date": 1}, {"year": 2025, "month": 3, "date": 1}], "nice": false},
                 "axis": {"values": [{"year":2020,"month":9,"date":1},{"year":2021,"month":1,"date":1},{"year":2021,"month":5,"date":1},{"year":2021,"month":9,"date":1},{"year":2022,"month":1,"date":1},{"year":2022,"month":5,"date":1},{"year":2022,"month":9,"date":1},{"year":2023,"month":1,"date":1},{"year":2023,"month":5,"date":1},{"year":2023,"month":9,"date":1},{"year":2024,"month":1,"date":1},{"year":2024,"month":5,"date":1},{"year":2024,"month":9,"date":1},{"year":2025,"month":1,"date":1}], "format": "%y/%m", "labelAngle": 270, "labelPadding": 14, "labelOverlap": false, "title": null}},
           "y": {"field": "v", "type": "quantitative", "stack": null, "scale": {"domain": [-200, 800], "nice": false, "zero": false},
                 "axis": {"orient": "right", "values": [-200, 0, 200, 400, 600, 800], "labelExpr": "'' + datum.value", "labelPadding": 18, "title": null}},
           "y2": {"datum": 0},
           "color": {"field": "s", "type": "nominal",
                     "scale": {"domain": ["复合肥价差（右轴）", "复合肥(45%CL,湖北)", "尿素(小颗粒,山东)", "磷酸一铵(55%粉,湖北)", "氯化钾(60%粉,青海)"], "range": ["#d9d9d9", "#a8875a", "#ed7d31", "#a6a6a6", "#ffc000"]},
                     "legend": {"orient": "none", "legendX": -19.4, "legendY": -68, "title": null, "columns": 2, "direction": "horizontal", "columnPadding": 47.4, "rowPadding": 9, "symbolType": "M-3.5,-0.3H3.5V0.3H-3.5Z", "symbolSize": 100, "symbolOffset": 12.5, "labelOffset": 14,
                                "encoding": {"symbols": {"shape": {"value": {"expr": "datum.value === '复合肥价差（右轴）' ? 'M-3.5,-0.65H3.5V0.65H-3.5Z' : 'M-3.5,-0.3H3.5V0.3H-3.5Z'"}}, "fill": {"value": {"expr": "datum.value === '复合肥价差（右轴）' ? '#d9d9d9' : datum.value === '复合肥(45%CL,湖北)' ? '#a8875a' : datum.value === '尿素(小颗粒,山东)' ? '#ed7d31' : datum.value === '磷酸一铵(55%粉,湖北)' ? '#a6a6a6' : '#ffc000'"}}, "strokeWidth": {"value": 0}}}}}
          }
         },
         {
          "layer": [
           {
            "transform": [{"filter": "datum.s !== '复合肥价差（右轴）' && datum.s !== '氯化钾(60%粉,青海)'"}],
            "mark": {"type": "line", "strokeWidth": 3, "strokeJoin": "round"}
           },
           {
            "transform": [{"filter": "datum.s === '氯化钾(60%粉,青海)'"}],
            "mark": {"type": "line", "strokeWidth": 3, "interpolate": "step-after"}
           }
          ],
          "encoding": {
           "x": {"field": "d", "type": "temporal", "scale": {"domain": [{"year": 2020, "month": 9, "date": 1}, {"year": 2025, "month": 3, "date": 1}], "nice": false},
                 "axis": {"values": [{"year":2020,"month":9,"date":1},{"year":2021,"month":1,"date":1},{"year":2021,"month":5,"date":1},{"year":2021,"month":9,"date":1},{"year":2022,"month":1,"date":1},{"year":2022,"month":5,"date":1},{"year":2022,"month":9,"date":1},{"year":2023,"month":1,"date":1},{"year":2023,"month":5,"date":1},{"year":2023,"month":9,"date":1},{"year":2024,"month":1,"date":1},{"year":2024,"month":5,"date":1},{"year":2024,"month":9,"date":1},{"year":2025,"month":1,"date":1}], "format": "%y/%m", "labelAngle": 270, "labelPadding": 14, "labelOverlap": false, "title": null}},
           "y": {"field": "v", "type": "quantitative", "scale": {"domain": [0, 6000], "nice": false},
                 "axis": {"orient": "left", "values": [0, 2000, 4000, 6000], "labelExpr": "'' + datum.value", "labelPadding": 17, "title": " ", "titleColor": "transparent", "titleFontSize": 10, "titlePadding": 13.5}},
           "color": {"field": "s", "type": "nominal",
                     "scale": {"domain": ["复合肥价差（右轴）", "复合肥(45%CL,湖北)", "尿素(小颗粒,山东)", "磷酸一铵(55%粉,湖北)", "氯化钾(60%粉,青海)"], "range": ["#d9d9d9", "#a8875a", "#ed7d31", "#a6a6a6", "#ffc000"]},
                     "legend": {"orient": "none", "legendX": -19.4, "legendY": -68, "title": null, "columns": 2, "direction": "horizontal", "columnPadding": 47.4, "rowPadding": 9, "symbolType": "M-3.5,-0.3H3.5V0.3H-3.5Z", "symbolSize": 100, "symbolOffset": 12.5, "labelOffset": 14,
                                "encoding": {"symbols": {"shape": {"value": {"expr": "datum.value === '复合肥价差（右轴）' ? 'M-3.5,-0.65H3.5V0.65H-3.5Z' : 'M-3.5,-0.3H3.5V0.3H-3.5Z'"}}, "fill": {"value": {"expr": "datum.value === '复合肥价差（右轴）' ? '#d9d9d9' : datum.value === '复合肥(45%CL,湖北)' ? '#a8875a' : datum.value === '尿素(小颗粒,山东)' ? '#ed7d31' : datum.value === '磷酸一铵(55%粉,湖北)' ? '#a6a6a6' : '#ffc000'"}}, "strokeWidth": {"value": 0}}}}}
          }
         }
        ],
        "resolve": {"scale": {"y": "independent"}}
       }
      ],
      "columns": 2, "spacing": 0, "align": "each",
      "resolve": {"scale": {"color": "independent"}, "legend": {"color": "independent"}}
     },
     {
      "width": 507, "height": 1,
      "data": {"values": [{}]},
      "mark": {"type": "rule", "color": "#aa8c6e", "strokeWidth": 2.5},
      "encoding": {"y": {"datum": 1, "scale": {"domain": [0, 1]}, "axis": null}},
      "title": {"text": "资料来源：Wind、德邦研究所", "orient": "bottom", "anchor": "start", "frame": "group", "fontSize": 14.7, "fontWeight": "normal", "color": "#333333", "baseline": "top", "offset": 10}
     }
    ],
    "columns": 1, "spacing": 24.5,
    "resolve": {"scale": {"color": "independent"}, "legend": {"color": "independent"}}
   }
  ],
  "columns": 1, "spacing": 28.25,
  "resolve": {"scale": {"color": "independent"}, "legend": {"color": "independent"}}
 }
],
"columns": 2, "spacing": 24.5,
"resolve": {"scale": {"color": "independent"}, "legend": {"color": "independent"}}
}
